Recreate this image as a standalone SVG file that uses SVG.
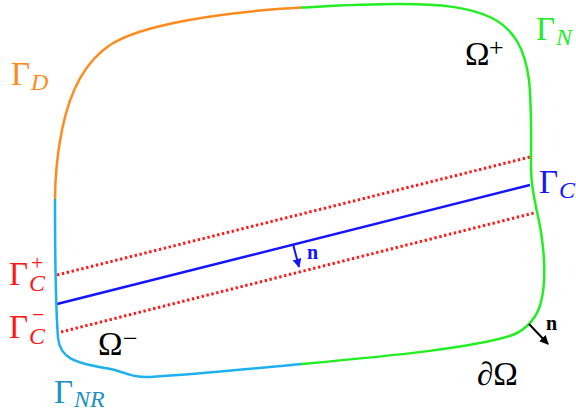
<svg xmlns="http://www.w3.org/2000/svg" width="576" height="415" viewBox="0 0 576 415">
<style>
.b{fill:none;stroke-width:2.5;stroke-linecap:round}
.t{font-family:"Liberation Serif",serif}
.g{font-size:33px}
.s{font-size:24px;font-style:italic}
.sup{font-size:22px}
.sup2{font-size:26px}
.dot{fill:none;stroke:#ff1a1a;stroke-width:3;stroke-dasharray:2.4 2.6}
.nb{font-size:20px;font-weight:bold}
</style>
<defs>
<marker id="ab" viewBox="0 0 10 10" refX="9" refY="5" markerWidth="9" markerHeight="9" markerUnits="userSpaceOnUse" orient="auto"><path d="M0,0 L10,5 L0,10 z" fill="#1414ff"/></marker>
<marker id="ak" viewBox="0 0 10 10" refX="9" refY="5" markerWidth="9" markerHeight="9" markerUnits="userSpaceOnUse" orient="auto"><path d="M0,0 L10,5 L0,10 z" fill="#000"/></marker>
</defs>
<g id="crack">
<line class="dot" x1="57" y1="275" x2="530" y2="157"/>
<line class="dot" x1="61" y1="332" x2="534" y2="213"/>
<line x1="57" y1="304" x2="530" y2="185" stroke="#1414ff" stroke-width="2.5"/>
</g>
<g id="boundary">
<path class="b" stroke="#ff8a1e" d="M302,7.5 C220,12 140,25 110,45 C80,65 68,100 62,130 C57,155 55,180 55,200"/>
<path class="b" stroke="#1eb0ee" d="M55,200 C55,260 56,310 58,338 C60,358 75,363 105,368 C125,371 130,378 150,377 C200,374 260,368 302,364"/>
<path class="b" stroke="#22ee22" d="M302,364 C400,355 470,348 510,336 C528,330 538,315 541,302 C546,282 545,258 541,232 C537,208 531,192 531,168 C531,140 532,110 529,80 C525,50 515,30 492,18 C470,7 440,4 400,4 C360,4 330,6 302,7.5"/>
</g>
<g id="connectors">
<line x1="293" y1="244" x2="299" y2="267" stroke="#1414ff" stroke-width="2" marker-end="url(#ab)"/>
<line x1="529" y1="324" x2="548" y2="344" stroke="#000" stroke-width="2" marker-end="url(#ak)"/>
</g>
<g id="labels" class="t">
<text x="11" y="85" fill="#ff8a1e"><tspan class="g">Γ</tspan><tspan class="s" dx="1" dy="5">D</tspan></text>
<text x="536" y="40" fill="#22ee22"><tspan class="g">Γ</tspan><tspan class="s" dx="1" dy="5">N</tspan></text>
<text x="539" y="193" fill="#1414ff"><tspan class="g">Γ</tspan><tspan class="s" dx="1" dy="5">C</tspan></text>
<text x="9" y="285" fill="#ff1a1a"><tspan class="g">Γ</tspan><tspan class="s" dx="1" dy="6">C</tspan></text>
<text x="31" y="270" fill="#ff1a1a" class="sup">+</text>
<text x="9" y="338" fill="#ff1a1a"><tspan class="g">Γ</tspan><tspan class="s" dx="1" dy="6">C</tspan></text>
<text x="32" y="322" fill="#ff1a1a" class="sup">−</text>
<text x="54" y="403" fill="#2090c4"><tspan class="g">Γ</tspan><tspan class="s" dx="1" dy="4">NR</tspan></text>
<text x="465" y="65" fill="#000"><tspan class="g">Ω</tspan></text>
<text x="489" y="56" fill="#000" class="sup2">+</text>
<text x="98" y="355" fill="#000"><tspan class="g">Ω</tspan></text>
<text x="123" y="347" fill="#000" class="sup2">−</text>
<text x="477" y="385" fill="#000" class="g">∂Ω</text>
<text x="307" y="259" fill="#1414ff" class="nb">n</text>
<text x="546" y="330" fill="#000" class="nb">n</text>
</g>
</svg>
